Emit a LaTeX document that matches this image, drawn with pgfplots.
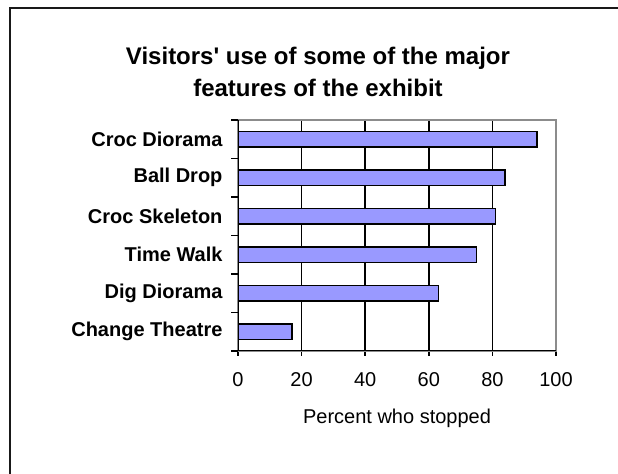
\documentclass[border=0pt]{standalone}
\usepackage{fontspec}
\setmainfont{Liberation Sans}
\usepackage{pgfplots}
\pgfplotsset{compat=1.18}
\definecolor{barblue}{HTML}{9999FF}
\definecolor{framegray}{HTML}{8C8C8C}

\begin{document}
\begin{tikzpicture}[x=1bp,y=1bp]
\useasboundingbox (0,0) rectangle (618,474);
% outer chart frame (only left and top edges are visible)
\draw[line width=2.5bp, black!90] (10,-2) -- (10,466) -- (620,466);

% title
\node[anchor=base, font=\fontsize{24bp}{28bp}\selectfont\bfseries] at (318,409) {Visitors\textquotesingle{} use of some of the major};
\node[anchor=base, font=\fontsize{24bp}{28bp}\selectfont\bfseries] at (318,377) {features of the exhibit};

\begin{axis}[
    at={(238bp,123bp)}, anchor=south west,
    scale only axis, width=318bp, height=231bp,
    xbar, bar width=15.5bp, bar shift=0pt,
    xmin=0, xmax=100, ymin=-0.5, ymax=5.5,
    xtick={0,20,...,100},
    ytick={0,...,5},
    yticklabels={Change Theatre, Dig Diorama, Time Walk, Croc Skeleton, Ball Drop, Croc Diorama},
    /pgf/number format/assume math mode=true,
    tick align=outside,
    xtick pos=bottom, ytick pos=left,
    xtick style={black, line width=1.5bp},
    major tick length=5bp,
    y tick style={draw=none},
    extra y ticks={-0.5,0.5,...,5.5},
    extra y tick labels={},
    extra y tick style={ytick style={draw=black, line width=1.5bp}, major tick length=7bp},
    xmajorgrids, major grid style={black, line width=1.6bp},
    axis line style={framegray, line width=2bp},
    ticklabel style={font=\fontsize{20bp}{24bp}\selectfont},
    xticklabel style={yshift=-13bp},
    yticklabel style={font=\fontsize{20bp}{24bp}\selectfont\bfseries, xshift=-7bp},
    xlabel={Percent who stopped},
    xlabel style={font=\fontsize{20bp}{24bp}\selectfont, yshift=-15bp},
]
\addplot[fill=barblue, draw=black, line width=1.6bp] coordinates {
    (17,0)
    (63,1)
    (75,2)
    (81,3)
    (84,4)
    (94,5)
};
% black left and bottom axis lines
\draw[black, line width=1.6bp] (axis cs:0,5.5) -- (axis cs:0,-0.5) -- (axis cs:100,-0.5);
\end{axis}
\end{tikzpicture}
\end{document}
